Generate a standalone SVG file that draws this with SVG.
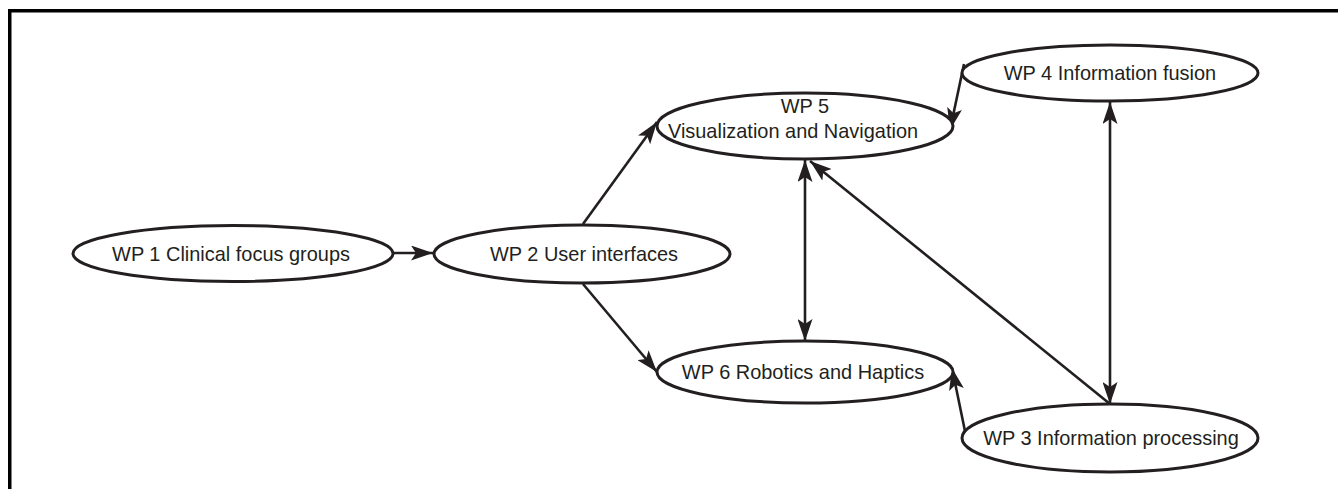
<svg xmlns="http://www.w3.org/2000/svg" width="1338" height="489" viewBox="0 0 1338 489">
  <style>
    .frame { stroke: #000; stroke-width: 3.5; fill: none; }
    .node ellipse { fill: #fff; stroke: #231f20; stroke-width: 3; }
    .node text { font-family: "Liberation Sans", Arial, sans-serif; font-size: 21px; fill: #231f20; text-anchor: middle; }
    .edge { stroke: #231f20; stroke-width: 2.6; fill: none; }
  </style>
  <defs>
    <marker id="arrow" viewBox="0 0 22 15" refX="22" refY="7.5" markerWidth="22" markerHeight="15" markerUnits="userSpaceOnUse" orient="auto-start-reverse">
      <path d="M0,0 L22,7.5 L0,15 L5,7.5 Z" fill="#231f20"/>
    </marker>
  </defs>
  <rect width="1338" height="489" fill="#fff"/>
  <!-- page frame: top and left rules only -->
  <path class="frame" d="M9.75,489 V10.75 H1338"/>

  <g id="connectors">
    <line class="edge" x1="393" y1="253" x2="433" y2="253" marker-end="url(#arrow)"/>
    <line class="edge" x1="583" y1="224" x2="657" y2="122" marker-end="url(#arrow)"/>
    <line class="edge" x1="583" y1="284" x2="657" y2="372" marker-end="url(#arrow)"/>
    <line class="edge" x1="805" y1="160" x2="805" y2="341" marker-start="url(#arrow)" marker-end="url(#arrow)"/>
    <line class="edge" x1="964" y1="64" x2="950" y2="130" marker-end="url(#arrow)"/>
    <line class="edge" x1="1110" y1="102" x2="1110" y2="404" marker-start="url(#arrow)" marker-end="url(#arrow)"/>
    <line class="edge" x1="1110" y1="404" x2="810" y2="161" marker-end="url(#arrow)"/>
    <line class="edge" x1="966" y1="436" x2="952" y2="368" marker-end="url(#arrow)"/>
  </g>

  <!-- labels are set slightly condensed, as in the original artwork -->
  <g id="wp1" class="node">
    <ellipse cx="233" cy="253.5" rx="160" ry="28"/>
    <text transform="translate(231,261) scale(0.95,1)">WP 1 Clinical focus groups</text>
  </g>
  <g id="wp2" class="node">
    <ellipse cx="582" cy="254" rx="148" ry="29"/>
    <text transform="translate(584,261) scale(0.95,1)">WP 2 User interfaces</text>
  </g>
  <g id="wp5" class="node">
    <ellipse cx="805" cy="126" rx="148" ry="33"/>
    <text transform="translate(805,113) scale(0.95,1)">WP 5</text>
    <text transform="translate(793,138) scale(0.95,1)">Visualization and Navigation</text>
  </g>
  <g id="wp4" class="node">
    <ellipse cx="1110" cy="73" rx="148" ry="28"/>
    <text transform="translate(1110,80) scale(0.95,1)">WP 4 Information fusion</text>
  </g>
  <g id="wp6" class="node">
    <ellipse cx="805" cy="372" rx="148" ry="31"/>
    <text transform="translate(803,379) scale(0.95,1)">WP 6 Robotics and Haptics</text>
  </g>
  <g id="wp3" class="node">
    <ellipse cx="1110" cy="438" rx="148" ry="34"/>
    <text transform="translate(1111,445) scale(0.95,1)">WP 3 Information processing</text>
  </g>
</svg>
